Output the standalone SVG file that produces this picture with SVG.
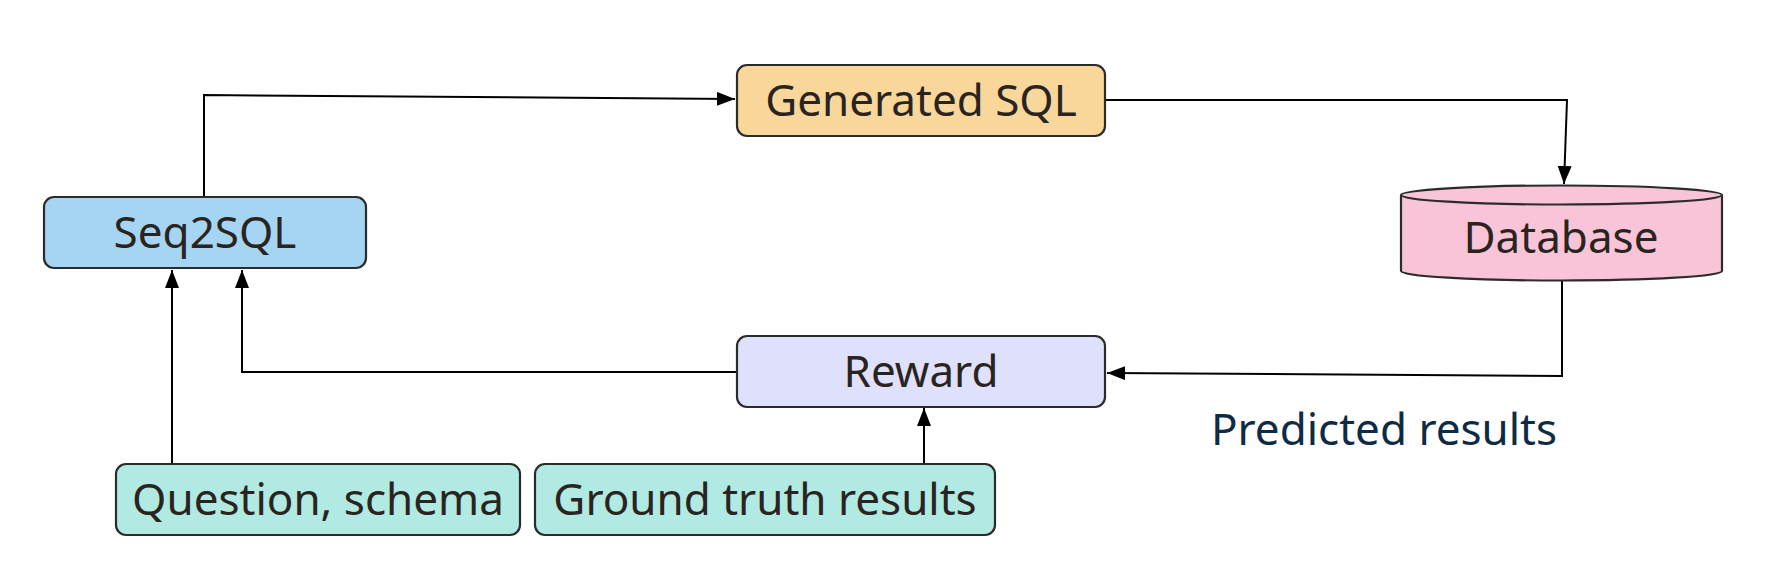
<svg xmlns="http://www.w3.org/2000/svg" width="1769" height="574" viewBox="0 0 1769 574">
<style>
.box{stroke:#2b2b2b;stroke-width:2.2}
.t{font-family:"Noto Sans","Open Sans",sans-serif;font-size:44px;fill:#2a2420;text-anchor:middle}
.c{fill:none;stroke:#000;stroke-width:2}
</style>
<defs>
<marker id="ah" markerUnits="userSpaceOnUse" markerWidth="18" markerHeight="14" refX="18" refY="7" orient="auto">
<path d="M0,0 L18,7 L0,14 z" fill="#000"/>
</marker>
</defs>
<rect width="1769" height="574" fill="#fff"/>
<g id="connectors">
<polyline class="c" points="204,197 204,95 735,99" marker-end="url(#ah)"/>
<polyline class="c" points="1105,100 1567,100 1564,184" marker-end="url(#ah)"/>
<polyline class="c" points="1562,281 1562,376 1107,373" marker-end="url(#ah)"/>
<polyline class="c" points="737,372 242,372 242,270" marker-end="url(#ah)"/>
<polyline class="c" points="172,464 172,270" marker-end="url(#ah)"/>
<polyline class="c" points="924,464 924,408" marker-end="url(#ah)"/>
</g>
<g id="seq2sql">
<rect class="box" x="44" y="197" width="322" height="71" rx="10" fill="#a6d5f3"/>
<text class="t" x="205" y="248">Seq2SQL</text>
</g>
<g id="generated-sql">
<rect class="box" x="737" y="65" width="368" height="71" rx="10" fill="#f9d79b"/>
<text class="t" x="921" y="116">Generated SQL</text>
</g>
<g id="database">
<path class="box" d="M1401,195 L1401,271 A160.5,9.5 0 0 0 1722,271 L1722,195" fill="#f9c4d8"/>
<ellipse class="box" cx="1561.5" cy="195" rx="160.5" ry="9.5" fill="#f9c4d8"/>
<text class="t" x="1561" y="253">Database</text>
</g>
<g id="reward">
<rect class="box" x="737" y="336" width="368" height="71" rx="10" fill="#dfe0fb"/>
<text class="t" x="921" y="387">Reward</text>
</g>
<g id="question-schema">
<rect class="box" x="116" y="464" width="404" height="71" rx="10" fill="#b1eae2"/>
<text class="t" x="318" y="515">Question, schema</text>
</g>
<g id="ground-truth">
<rect class="box" x="535" y="464" width="460" height="71" rx="10" fill="#b1eae2"/>
<text class="t" x="765" y="515">Ground truth results</text>
</g>
<g id="predicted-label">
<text class="t" x="1384" y="445" style="fill:#0e2b45">Predicted results</text>
</g>
</svg>
